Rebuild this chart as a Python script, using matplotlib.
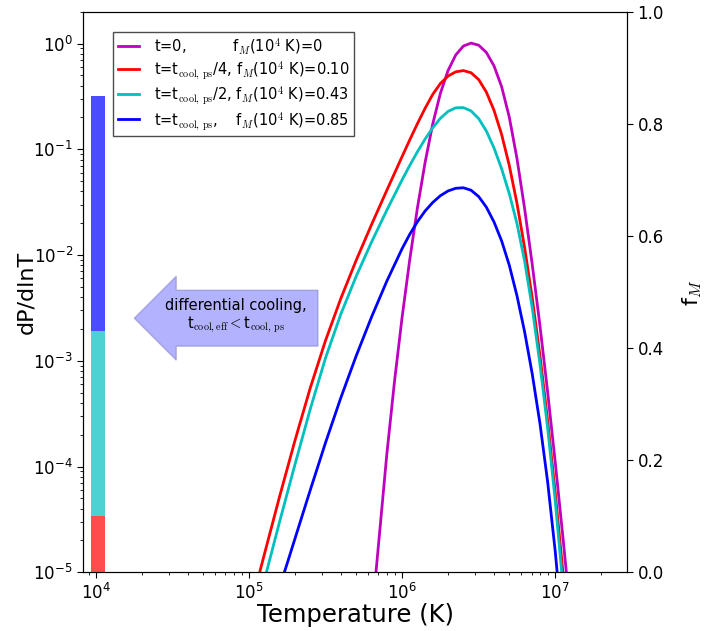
import matplotlib
matplotlib.use("Agg")
import matplotlib.pyplot as plt
import numpy as np

plt.rcParams['mathtext.fontset'] = 'cm'
plt.rcParams['font.family'] = 'DejaVu Sans'
plt.rcParams['axes.unicode_minus'] = False

# curves, as log10(T) and log10(dP/dlnT)
logT_t0 = [5.80, 5.829, 5.9, 5.95, 6.0, 6.05, 6.1, 6.15, 6.2, 6.25,
           6.3, 6.35, 6.4, 6.45, 6.5, 6.55, 6.6, 6.65, 6.7, 6.75,
           6.8, 6.85, 6.9, 6.95, 7.0, 7.05, 7.1]
logP_t0 = [-5.53, -5.007, -3.889, -3.201, -2.589, -2.044, -1.556, -1.126, -0.761, -0.471,
           -0.256, -0.109, -0.024, 0.004, -0.016, -0.084, -0.211, -0.409, -0.697, -1.087,
           -1.562, -2.092, -2.667, -3.292, -3.962, -4.669, -5.407]

logT_q4 = [5.04, 5.069, 5.1, 5.2, 5.3, 5.4, 5.5, 5.6, 5.7, 5.8,
           5.9, 6.0, 6.05, 6.1, 6.15, 6.2, 6.25, 6.3, 6.35, 6.4,
           6.45, 6.5, 6.55, 6.6, 6.65, 6.7, 6.75, 6.8, 6.85, 6.9,
           6.95, 7.0, 7.05, 7.1]
logP_q4 = [-5.17, -5.007, -4.835, -4.285, -3.757, -3.259, -2.809, -2.411, -2.051, -1.714,
           -1.389, -1.069, -0.911, -0.758, -0.613, -0.481, -0.378, -0.308, -0.268, -0.256,
           -0.276, -0.341, -0.459, -0.631, -0.861, -1.154, -1.511, -1.931, -2.409, -2.949,
           -3.562, -4.249, -4.999, -5.79]

logT_q2 = [5.08, 5.113, 5.2, 5.3, 5.4, 5.5, 5.6, 5.7, 5.8, 5.9,
           6.0, 6.05, 6.1, 6.15, 6.2, 6.25, 6.3, 6.35, 6.4, 6.45,
           6.5, 6.55, 6.6, 6.65, 6.7, 6.75, 6.8, 6.85, 6.9, 6.95,
           7.0, 7.05, 7.1]
logP_q2 = [-5.19, -5.007, -4.524, -3.984, -3.459, -2.974, -2.559, -2.202, -1.879, -1.577,
           -1.289, -1.153, -1.024, -0.904, -0.797, -0.707, -0.642, -0.608, -0.606, -0.637,
           -0.710, -0.827, -0.987, -1.185, -1.420, -1.702, -2.057, -2.502, -3.030, -3.632,
           -4.327, -5.127, -5.98]

logT_q1 = [5.20, 5.23, 5.3, 5.4, 5.5, 5.6, 5.7, 5.8, 5.9, 6.0,
           6.05, 6.1, 6.15, 6.2, 6.25, 6.3, 6.35, 6.4, 6.45, 6.5,
           6.55, 6.6, 6.65, 6.7, 6.75, 6.8, 6.85, 6.9, 6.95, 7.0,
           7.05]
logP_q1 = [-5.145, -5.007, -4.685, -4.225, -3.775, -3.350, -2.955, -2.588, -2.248, -1.940,
           -1.804, -1.685, -1.584, -1.503, -1.439, -1.394, -1.369, -1.364, -1.387, -1.447,
           -1.547, -1.687, -1.867, -2.097, -2.385, -2.727, -3.127, -3.592, -4.142, -4.805,
           -5.592]

labels = [r't=0,          f$_M$(10$^4$ K)=0',
          r't=t$_{\rm cool,\,ps}$/4, f$_M$(10$^4$ K)=0.10',
          r't=t$_{\rm cool,\,ps}$/2, f$_M$(10$^4$ K)=0.43',
          r't=t$_{\rm cool,\,ps}$,    f$_M$(10$^4$ K)=0.85']
colors = ['m', 'r', 'c', 'b']

# cold mass fraction at 10^4 K (stacked bar)
fM = [0.10, 0.43, 0.85]
bar_colors = ['r', 'c', 'b']

fig = plt.figure(figsize=(7.08, 6.31), dpi=100)
ax = fig.add_axes([0.1177, 0.093, 0.7679, 0.8885])

curves = [(logT_t0, logP_t0), (logT_q4, logP_q4), (logT_q2, logP_q2), (logT_q1, logP_q1)]
for (lt, lp), c, lab in zip(curves, colors, labels):
    ax.plot(10**np.array(lt), 10**np.array(lp), color=c, lw=2, label=lab)

ax.set_xscale('log')
ax.set_yscale('log')
ax.set_xlim(8.3e3, 2.94e7)
ax.set_ylim(1e-5, 2.0)
ax.set_xlabel('Temperature (K)', fontsize=17.5, labelpad=0)
ax.set_ylabel('dP/dlnT', fontsize=16, labelpad=-2)
ax.tick_params(labelsize=12, direction='out', top=False, length=4)
ax.tick_params(which='minor', direction='out', length=2)

leg = ax.legend(loc='upper left', bbox_to_anchor=(0.055, 0.964), borderaxespad=0,
                fontsize=10.5, handlelength=1.5, handletextpad=1.0, labelspacing=0.22,
                borderpad=0.3, fancybox=False, framealpha=1)
leg.get_frame().set_edgecolor('0.3')

ax.text(8.26e4, 10**-2.58,
        'differential cooling,\n' + r't$_{\rm cool,eff}<$t$_{\rm cool,\,ps}$',
        ha='center', va='center', fontsize=10.5,
        bbox=dict(boxstyle='larrow,pad=0.75', fc=(0, 0, 1, 0.3), ec=(0.4, 0.4, 0.7, 0.4), lw=1))

ax2 = ax.twinx()
bottom = 0
for top, c in zip(fM, bar_colors):
    ax2.bar(9.35e3, top - bottom, width=2.2e3, bottom=bottom, align='edge',
            color=c, alpha=0.7, lw=0)
    bottom = top
ax2.set_ylim(0, 1)
ax2.set_ylabel(r'f$_M$', fontsize=16, labelpad=12)
ax2.tick_params(labelsize=12, direction='out', length=4)

fig.savefig('out.png', dpi=100)
